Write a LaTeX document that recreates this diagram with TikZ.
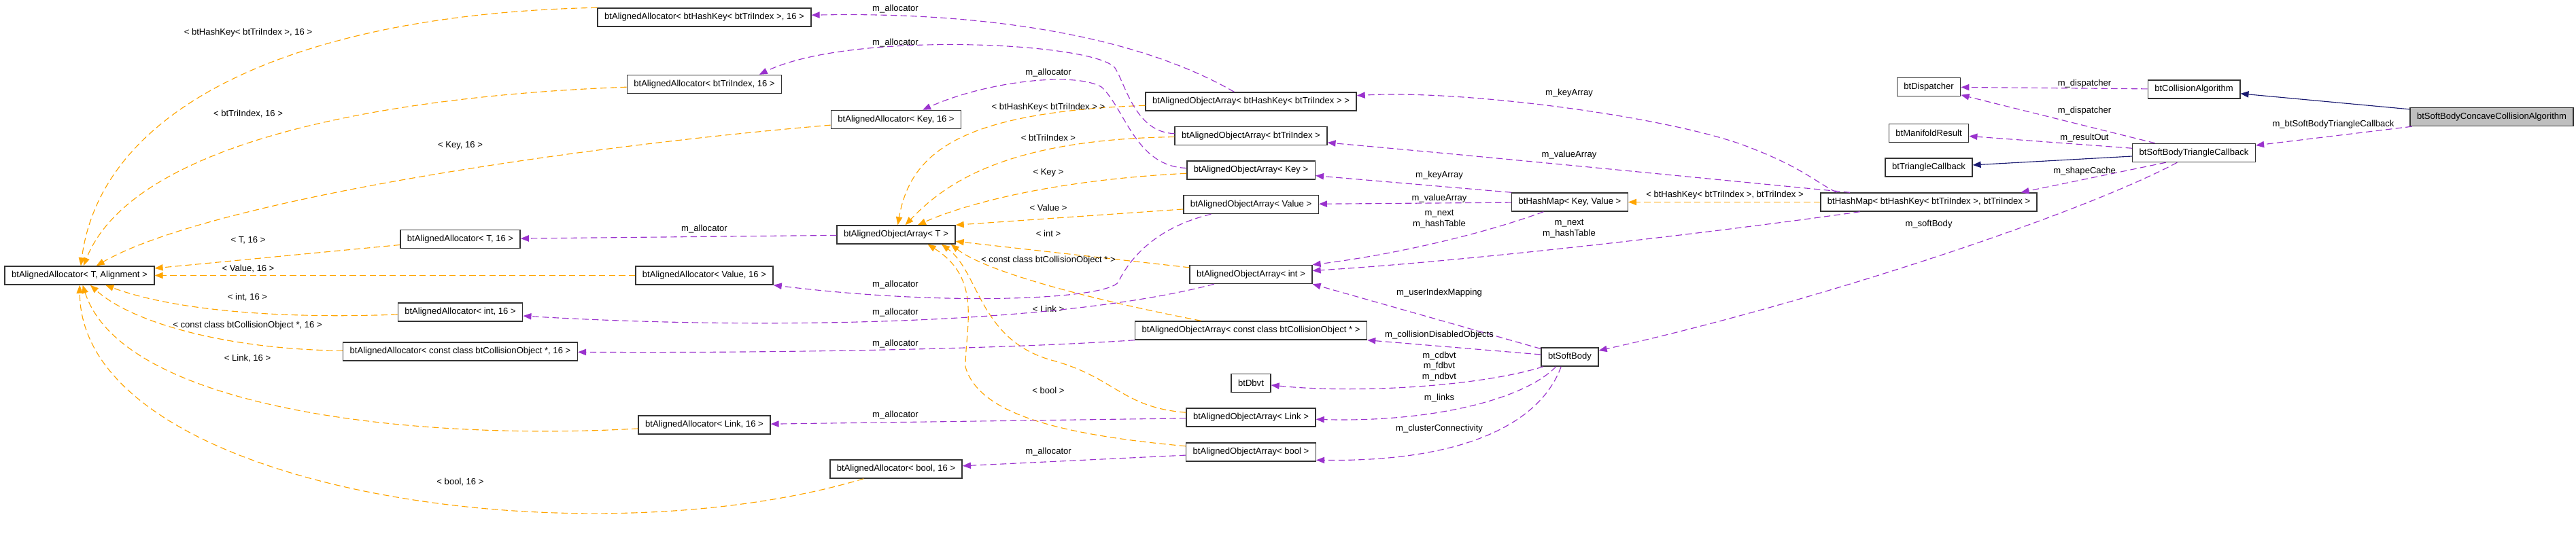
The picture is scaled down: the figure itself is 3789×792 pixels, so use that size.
\documentclass[tikz,border=0pt]{standalone}
\usepackage{fontspec}
\setmainfont{Liberation Sans}
\usetikzlibrary{arrows.meta}

\definecolor{tmplOrange}{RGB}{255,165,0}
\definecolor{usePurple}{RGB}{154,50,205}
\definecolor{inhBlue}{RGB}{25,25,112}

\tikzset{
  cls/.style={draw=black!80, line width=1.1pt, fill=white, minimum height=20.25pt,
    inner xsep=7.5pt, inner ysep=0pt, font=\fontsize{9.8}{11.8}\selectfont},
  clsMain/.style={cls, fill=black!25},
  lbl/.style={inner sep=0pt, align=center, font=\fontsize{9.8}{11.8}\selectfont},
  tmpl/.style={draw=tmplOrange, line width=0.85pt, dash pattern=on 7pt off 4pt,
    -{Triangle[length=9pt,width=7pt]}},
  uses/.style={draw=usePurple, line width=0.85pt, dash pattern=on 7pt off 4pt,
    -{Triangle[length=9pt,width=7pt]}},
  inherit/.style={draw=inhBlue, line width=0.85pt, -{Triangle[length=9pt,width=7pt]}},
}

\begin{document}
\begin{tikzpicture}[x=0.75pt, y=-0.75pt]
% Parameters (pixel grid, y downwards)
\def\colA{117}
\def\colB{677}
\def\colC{1036}
\def\colD{1318}
\def\colE{1840}
\def\colF{2309}
\def\colG{2837}
\def\colH{3227}
\def\colI{3665}

\useasboundingbox (0,0) rectangle (3789,792);

% Allocators
\node[cls] (aaTA) at (\colA,405.5) {btAlignedAllocator< T, Alignment >};
\node[cls] (aaHK) at (\colC,25.5) {btAlignedAllocator< btHashKey< btTriIndex >, 16 >};
\node[cls] (aaTI) at (\colC,124) {btAlignedAllocator< btTriIndex, 16 >};
\node[cls] (aaKey) at (\colD,176) {btAlignedAllocator< Key, 16 >};
\node[cls] (aaT) at (\colB,352) {btAlignedAllocator< T, 16 >};
\node[cls] (aaVal) at (\colC,405.5) {btAlignedAllocator< Value, 16 >};
\node[cls] (aaInt) at (\colB,459.5) {btAlignedAllocator< int, 16 >};
\node[cls] (aaCO) at (\colB,517.5) {btAlignedAllocator< const class btCollisionObject *, 16 >};
\node[cls] (aaLink) at (\colC,625.5) {btAlignedAllocator< Link, 16 >};
\node[cls] (aaBool) at (\colD,690.5) {btAlignedAllocator< bool, 16 >};

% Object arrays
\node[cls] (oaT) at (\colD,345.5) {btAlignedObjectArray< T >};
\node[cls] (oaHK) at (\colE,149.5) {btAlignedObjectArray< btHashKey< btTriIndex > >};
\node[cls] (oaTI) at (\colE,200) {btAlignedObjectArray< btTriIndex >};
\node[cls] (oaKey) at (\colE,250.5) {btAlignedObjectArray< Key >};
\node[cls] (oaVal) at (\colE,301) {btAlignedObjectArray< Value >};
\node[cls] (oaInt) at (\colE,404) {btAlignedObjectArray< int >};
\node[cls] (oaCO) at (\colE,486.5) {btAlignedObjectArray< const class btCollisionObject * >};
\node[cls] (dbvt) at (\colE,564) {btDbvt};
\node[cls] (oaLink) at (\colE,614.5) {btAlignedObjectArray< Link >};
\node[cls] (oaBool) at (\colE,665.5) {btAlignedObjectArray< bool >};

% Maps, soft body, callbacks
\node[cls] (hmKV) at (\colF,297.5) {btHashMap< Key, Value >};
\node[cls] (sb) at (\colF,525.5) {btSoftBody};
\node[cls] (disp) at (\colG,128) {btDispatcher};
\node[cls] (mres) at (\colG,196) {btManifoldResult};
\node[cls] (tcb) at (\colG,246.5) {btTriangleCallback};
\node[cls] (hmTI) at (\colG,297.5) {btHashMap< btHashKey< btTriIndex >, btTriIndex >};
\node[cls] (calg) at (\colH,131.5) {btCollisionAlgorithm};
\node[cls] (sbtc) at (\colH,225) {btSoftBodyTriangleCallback};
\node[clsMain] (sbcca) at (\colI,172) {btSoftBodyConcaveCollisionAlgorithm};

% Template instances of btAlignedAllocator
\draw[tmpl] (aaHK.north west) .. controls (450,20) and (150,150) .. (aaTA)
  node[lbl] at (365,48) {< btHashKey< btTriIndex >, 16 >};
\draw[tmpl] (aaTI) .. controls (600,140) and (200,200) .. (aaTA)
  node[lbl] at (365,168) {< btTriIndex, 16 >};
\draw[tmpl] (aaKey) .. controls (800,220) and (300,300) .. (aaTA)
  node[lbl] at (677,214) {< Key, 16 >};
\draw[tmpl] (aaT) -- (aaTA) node[lbl] at (365,354) {< T, 16 >};
\draw[tmpl] (aaVal) -- (aaTA) node[lbl] at (365,396) {< Value, 16 >};
\draw[tmpl] (aaInt) .. controls (400,470) and (250,455) .. (aaTA)
  node[lbl] at (364,438) {< int, 16 >};
\draw[tmpl] (aaCO) .. controls (350,515) and (200,480) .. (aaTA)
  node[lbl] at (364,479) {< const class btCollisionObject *, 16 >};
\draw[tmpl] (aaLink) .. controls (600,650) and (180,600) .. (aaTA)
  node[lbl] at (364,528) {< Link, 16 >};
\draw[tmpl] (aaBool) .. controls (850,830) and (120,720) .. (aaTA)
  node[lbl] at (677,710) {< bool, 16 >};

% Template instances of btAlignedObjectArray
\draw[tmpl] (oaHK) .. controls (1420,165) and (1340,220) .. (oaT)
  node[lbl] at (1542,158) {< btHashKey< btTriIndex > >};
\draw[tmpl] (oaTI) .. controls (1480,205) and (1390,270) .. (oaT)
  node[lbl] at (1542,203) {< btTriIndex >};
\draw[tmpl] (oaKey) .. controls (1550,265) and (1420,300) .. (oaT)
  node[lbl] at (1542,254) {< Key >};
\draw[tmpl] (oaVal) -- (oaT.north east) node[lbl] at (1542,306) {< Value >};
\draw[tmpl] (oaInt) -- (oaT) node[lbl] at (1542,344) {< int >};
\draw[tmpl] (oaCO) .. controls (1600,440) and (1450,400) .. (oaT.-10)
  node[lbl] at (1542,383) {< const class btCollisionObject * >};
\draw[tmpl] (oaLink) .. controls (1650,600) and (1640,555) .. (1546,530)
  .. controls (1440,500) and (1440,400) .. (oaT.-12)
  node[lbl] at (1542,455) {< Link >};
\draw[tmpl] (oaBool) .. controls (1560,640) and (1440,610) .. (1420,540)
  .. controls (1420,480) and (1445,410) .. (oaT.-17)
  node[lbl] at (1542,575) {< bool >};

% Template instance of btHashMap
\draw[tmpl] (hmTI) -- (hmKV) node[lbl] at (2537,287) {< btHashKey< btTriIndex >, btTriIndex >};

% Allocator members
\draw[uses] (oaHK) .. controls (1650,40) and (1400,18) .. (aaHK)
  node[lbl] at (1317,13) {m\_allocator};
\draw[uses] (oaTI) .. controls (1670,195) and (1656,125) .. (1640,100)
  .. controls (1610,62) and (1250,45) .. (aaTI.10)
  node[lbl] at (1317,63) {m\_allocator};
\draw[uses] (oaKey) .. controls (1670,245) and (1655,160) .. (1620,128)
  .. controls (1580,105) and (1450,120) .. (aaKey.20)
  node[lbl] at (1542,107) {m\_allocator};
\draw[uses] (oaT) -- (aaT) node[lbl] at (1036,337) {m\_allocator};
\draw[uses] (oaVal) .. controls (1700,335) and (1662,380) .. (1645,415)
  .. controls (1630,440) and (1400,452) .. (aaVal.south east)
  node[lbl] at (1317,419) {m\_allocator};
\draw[uses] (oaInt) .. controls (1550,480) and (1100,485) .. (aaInt)
  node[lbl] at (1317,460) {m\_allocator};
\draw[uses] (oaCO.south west) .. controls (1500,512) and (1200,520) .. (aaCO)
  node[lbl] at (1317,506) {m\_allocator};
\draw[uses] (oaLink) -- (aaLink) node[lbl] at (1317,611) {m\_allocator};
\draw[uses] (oaBool) -- (aaBool) node[lbl] at (1542,665) {m\_allocator};

% Hash map members
\draw[uses] (hmKV.north west) -- (oaKey) node[lbl] at (2117,258) {m\_keyArray};
\draw[uses] (hmKV) -- (oaVal) node[lbl] at (2117,292) {m\_valueArray};
\draw[uses] (hmKV) .. controls (2180,345) and (2050,375) .. (oaInt.north east)
  node[lbl] at (2117,322.5) {m\_next\\m\_hashTable};
\draw[uses] (hmTI.174.5) .. controls (2670,268) and (2650,245) .. (2560,212)
  .. controls (2440,170) and (2150,132) .. (oaHK)
  node[lbl] at (2308,137) {m\_keyArray};
\draw[uses] (hmTI.173.5) .. controls (2500,262) and (2200,232) .. (oaTI)
  node[lbl] at (2308,228) {m\_valueArray};
\draw[uses] (hmTI.188) .. controls (2500,345) and (2150,385) .. (oaInt)
  node[lbl] at (2308,336.5) {m\_next\\m\_hashTable};

% btSoftBody members
\draw[uses] (sb) -- (oaInt.south east) node[lbl] at (2117,431) {m\_userIndexMapping};
\draw[uses] (sb) -- (oaCO.south east) node[lbl] at (2117,493) {m\_collisionDisabledObjects};
\draw[uses] (sb.200) .. controls (2180,568) and (2000,580) .. (dbvt)
  node[lbl] at (2117,539.5) {m\_cdbvt\\m\_fdbvt\\m\_ndbvt};
\draw[uses] (sb.215) .. controls (2240,590) and (2100,622) .. (oaLink)
  node[lbl] at (2117,586) {m\_links};
\draw[uses] (sb.228) .. controls (2265,625) and (2150,680) .. (oaBool.-7)
  node[lbl] at (2117,631) {m\_clusterConnectivity};

% btSoftBodyTriangleCallback members
\draw[uses] (sbtc.210) .. controls (3050,320) and (2650,450) .. (sb)
  node[lbl] at (2837,330) {m\_softBody};
\draw[uses] (sbtc.199) -- (hmTI.6) node[lbl] at (3066,252) {m\_shapeCache};
\draw[uses] (sbtc) -- (mres) node[lbl] at (3066,203) {m\_resultOut};
\draw[uses] (sbtc) -- (disp) node[lbl] at (3066,163) {m\_dispatcher};
\draw[inherit] (sbtc) -- (tcb);

% btCollisionAlgorithm
\draw[uses] (calg) -- (disp) node[lbl] at (3066,123) {m\_dispatcher};

% btSoftBodyConcaveCollisionAlgorithm
\draw[inherit] (sbcca) -- (calg);
\draw[uses] (sbcca) -- (sbtc) node[lbl] at (3432,183) {m\_btSoftBodyTriangleCallback};
\end{tikzpicture}
\end{document}
